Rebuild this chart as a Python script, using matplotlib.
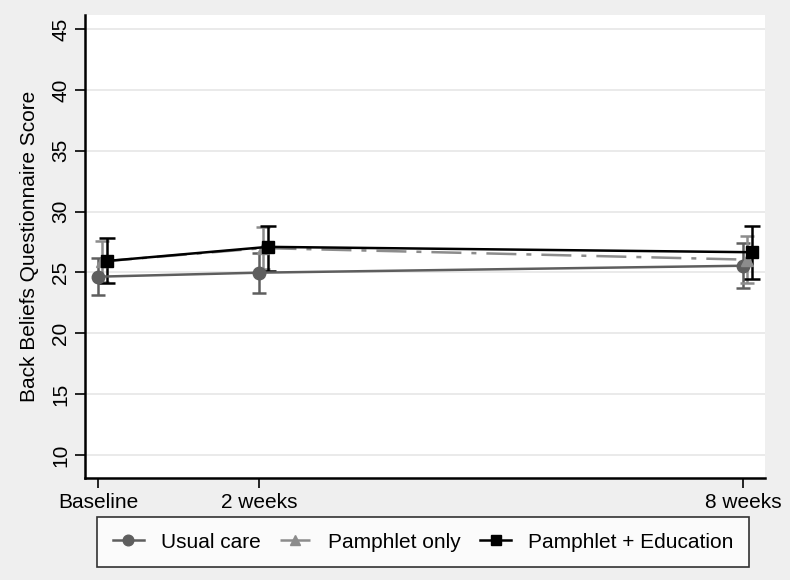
import numpy as np
import matplotlib.pyplot as plt

plt.rcParams['font.family'] = ['Liberation Sans', 'DejaVu Sans']

weeks = [0, 2, 8]
week_labels = ['Baseline', '2 weeks', '8 weeks']

usual_mean = [24.65, 24.98, 25.55]
usual_lo = [23.15, 23.34, 23.7]
usual_hi = [26.15, 26.6, 27.4]

pamph_mean = [25.9, 27.0, 26.05]
pamph_lo = [24.2, 25.3, 24.13]
pamph_hi = [27.58, 28.7, 28.0]

educ_mean = [25.94, 27.1, 26.66]
educ_lo = [24.16, 25.14, 24.5]
educ_hi = [27.8, 28.82, 28.82]

groups = [
    ('Usual care', usual_mean, usual_lo, usual_hi, 0.0, '#5e5e5e', 'o', '-', 5),
    ('Pamphlet only', pamph_mean, pamph_lo, pamph_hi, 0.05, '#8c8c8c', '^', (0, (12, 4, 2, 4)), 5),
    ('Pamphlet + Education', educ_mean, educ_lo, educ_hi, 0.11, '#000000', 's', '-', 6),
]

fig = plt.figure(figsize=(7.9, 5.8), dpi=100, facecolor='#efefef')
ax = fig.add_axes([85 / 790, 1 - 478 / 580, 680 / 790, 463 / 580])
ax.set_facecolor('white')

handles = []
for name, m, lo, hi, off, col, mk, ls, cap in groups:
    x = np.array(weeks) + off
    m = np.array(m)
    yerr = [m - np.array(lo), np.array(hi) - m]
    ax.errorbar(x, m, yerr=yerr, fmt='none', ecolor=col, elinewidth=1.8,
                capsize=cap, capthick=1.8, zorder=3)
    h, = ax.plot(x, m, color=col, marker=mk, markersize=9, linestyle=ls,
                 linewidth=1.8, label=name, zorder=4)
    handles.append(h)

ax.set_xlim(-0.161, 8.275)
ax.set_ylim(8.11, 46.15)
ax.set_yticks(np.arange(10, 46, 5))
ax.set_xticks(weeks)
ax.set_xticklabels(week_labels)
ax.grid(axis='y', color='#e6e6e6', linewidth=1.2, zorder=0)
ax.set_axisbelow(True)

for s in ['top', 'right']:
    ax.spines[s].set_visible(False)
ax.spines['left'].set_linewidth(1.8)
ax.spines['bottom'].set_linewidth(1.8)
ax.tick_params(axis='both', labelsize=15, length=7, width=1.2, direction='out')
for lab in ax.get_yticklabels():
    lab.set_rotation(90)
    lab.set_va('center')

ax.set_ylabel('Back Beliefs Questionnaire Score', fontsize=15, labelpad=9)

leg = fig.legend(handles=handles, loc='center', ncol=3, mode='expand',
                 bbox_to_anchor=(97 / 790, 12 / 580, 652 / 790, 52 / 580),
                 fontsize=15, frameon=True, fancybox=False, handlelength=1.5,
                 markerscale=0.85, borderaxespad=0, borderpad=0.75)
leg.get_frame().set_edgecolor('black')
leg.get_frame().set_linewidth(1.2)

fig.savefig('out.png', dpi=100, facecolor=fig.get_facecolor())
